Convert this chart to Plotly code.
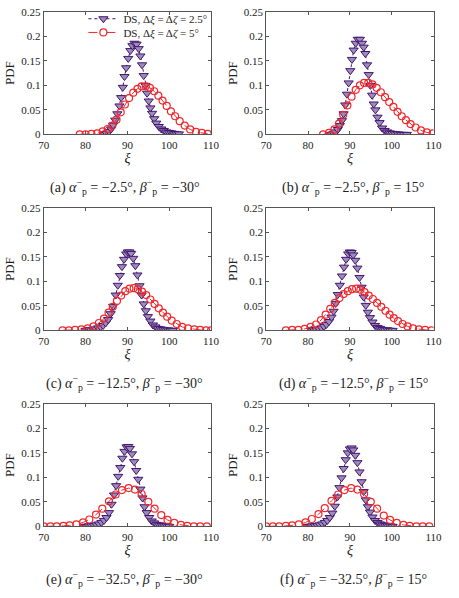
import plotly.graph_objects as go

# ---------------- data ----------------
# panel (a)
a_ds25_x = [84.5, 85.0, 85.6, 86.1, 86.6, 87.1, 87.6, 88.1, 88.5, 88.9, 89.3, 89.7, 90.2, 90.7, 91.2, 91.7,
            92.2, 92.7, 93.1, 93.5, 93.9, 94.3, 94.7, 95.1, 95.5, 95.9, 96.4, 96.9, 97.5, 98.1, 98.7, 99.3,
            99.9, 100.5, 101.1, 101.7, 102.3]
a_ds25_y = [0.000, 0.002, 0.006, 0.011, 0.019, 0.029, 0.042, 0.058, 0.075, 0.096, 0.118, 0.136, 0.155, 0.171,
            0.181, 0.186, 0.184, 0.175, 0.160, 0.142, 0.120, 0.100, 0.084, 0.068, 0.054, 0.043, 0.032, 0.023,
            0.016, 0.011, 0.008, 0.005, 0.004, 0.003, 0.002, 0.001, 0.001]
a_ds5_x = [78.6, 80.0, 81.4, 82.8, 84.1, 85.3, 86.4, 87.4, 88.4, 89.4, 90.4, 91.4, 92.4, 93.4, 94.4, 95.4,
           96.4, 97.4, 98.4, 99.4, 100.4, 101.4, 102.5, 103.7, 105.0, 106.4, 107.8, 109.2]
a_ds5_y = [0.000, 0.000, 0.001, 0.002, 0.006, 0.011, 0.018, 0.030, 0.045, 0.061, 0.074, 0.085, 0.093, 0.098,
           0.098, 0.095, 0.088, 0.079, 0.069, 0.058, 0.047, 0.037, 0.027, 0.018, 0.010, 0.005, 0.003, 0.001]

# panel (b)
b_ds25_x = [85.6, 86.1, 86.6, 87.1, 87.6, 88.1, 88.5, 88.9, 89.3, 89.7, 90.1, 90.5, 90.9, 91.4, 91.9, 92.4,
            92.9, 93.3, 93.7, 94.1, 94.5, 94.9, 95.3, 95.7, 96.1, 96.6, 97.1, 97.7, 98.3, 98.9, 99.5, 100.1,
            100.8, 101.5, 102.2, 102.9, 103.6]
b_ds25_y = [0.000, 0.002, 0.005, 0.010, 0.018, 0.028, 0.042, 0.060, 0.082, 0.105, 0.130, 0.153, 0.172, 0.186,
            0.194, 0.194, 0.186, 0.178, 0.165, 0.142, 0.122, 0.100, 0.080, 0.062, 0.050, 0.035, 0.024, 0.013,
            0.008, 0.005, 0.003, 0.002, 0.001, 0.001, 0.000, 0.000, 0.000]
b_ds5_x = [83.6, 85.0, 86.3, 87.4, 88.4, 89.4, 90.4, 91.4, 92.4, 93.4, 94.4, 95.4, 96.4, 97.4, 98.4, 99.4,
           100.4, 101.4, 102.4, 103.4, 104.5, 105.7, 107.0, 108.4, 109.8]
b_ds5_y = [0.000, 0.003, 0.010, 0.022, 0.040, 0.059, 0.077, 0.091, 0.100, 0.105, 0.105, 0.102, 0.095, 0.086,
           0.076, 0.066, 0.056, 0.046, 0.037, 0.029, 0.021, 0.014, 0.008, 0.004, 0.002]

# panel (c)
c_ds25_x = [80.0, 80.6, 81.2, 81.8, 82.4, 83.0, 83.6, 84.2, 84.8, 85.4, 86.0, 86.6, 87.2, 87.7, 88.2, 88.7,
            89.2, 89.7, 90.1, 90.5, 90.9, 91.4, 91.9, 92.4, 92.9, 93.4, 93.9, 94.4, 94.9, 95.5, 96.1, 96.7,
            97.3, 97.9, 98.5, 99.1, 99.7, 100.3, 100.9]
c_ds25_y = [0.000, 0.001, 0.001, 0.002, 0.003, 0.005, 0.007, 0.010, 0.015, 0.022, 0.034, 0.049, 0.072, 0.092,
            0.112, 0.130, 0.145, 0.156, 0.160, 0.160, 0.157, 0.147, 0.132, 0.113, 0.091, 0.072, 0.054, 0.040,
            0.028, 0.019, 0.011, 0.007, 0.004, 0.003, 0.002, 0.001, 0.001, 0.000, 0.000]
c_ds5_x = [74.5, 76.0, 77.5, 79.0, 80.5, 81.9, 83.2, 84.4, 85.5, 86.5, 87.5, 88.5, 89.5, 90.5, 91.5, 92.5,
           93.5, 94.5, 95.5, 96.5, 97.5, 98.5, 99.5, 100.6, 101.8, 103.1, 104.5, 106.0, 107.4, 108.8, 110.0]
c_ds5_y = [0.000, 0.000, 0.001, 0.002, 0.004, 0.008, 0.015, 0.024, 0.036, 0.048, 0.060, 0.071, 0.080, 0.085,
           0.086, 0.084, 0.079, 0.072, 0.063, 0.054, 0.045, 0.036, 0.028, 0.020, 0.013, 0.007, 0.004, 0.002,
           0.001, 0.000, 0.000]

# panel (d)
d_ds25_x = [80.8, 81.4, 82.0, 82.6, 83.2, 83.8, 84.4, 85.0, 85.6, 86.1, 86.6, 87.1, 87.6, 88.1, 88.6, 89.1,
            89.6, 90.0, 90.4, 90.8, 91.3, 91.8, 92.3, 92.8, 93.3, 93.8, 94.3, 94.8, 95.4, 96.0, 96.6, 97.2,
            97.8, 98.4, 99.0, 99.6, 100.2]
d_ds25_y = [0.000, 0.001, 0.002, 0.003, 0.005, 0.008, 0.012, 0.018, 0.027, 0.039, 0.055, 0.073, 0.092, 0.111,
            0.129, 0.145, 0.156, 0.160, 0.159, 0.154, 0.143, 0.127, 0.108, 0.088, 0.068, 0.051, 0.037, 0.026,
            0.017, 0.010, 0.006, 0.004, 0.002, 0.001, 0.001, 0.000, 0.000]
d_ds5_x = [74.7, 76.2, 77.7, 79.2, 80.6, 81.9, 83.1, 84.2, 85.3, 86.4, 87.5, 88.5, 89.5, 90.5, 91.5, 92.5,
           93.5, 94.5, 95.5, 96.5, 97.5, 98.5, 99.5, 100.5, 101.5, 102.6, 103.8, 105.1, 106.5, 108.0, 109.5]
d_ds5_y = [0.000, 0.001, 0.001, 0.003, 0.007, 0.012, 0.021, 0.032, 0.044, 0.056, 0.066, 0.074, 0.080, 0.084,
           0.085, 0.083, 0.078, 0.071, 0.064, 0.056, 0.048, 0.040, 0.032, 0.025, 0.019, 0.013, 0.008, 0.004,
           0.002, 0.001, 0.000]

# panel (e)
e_ds25_x = [79.6, 80.2, 80.8, 81.4, 82.0, 82.6, 83.2, 83.8, 84.4, 85.0, 85.6, 86.2, 86.8, 87.3, 87.8, 88.3,
            88.8, 89.3, 89.8, 90.2, 90.6, 91.1, 91.6, 92.1, 92.6, 93.1, 93.6, 94.1, 94.6, 95.2, 95.8, 96.4,
            97.0, 97.6, 98.2, 98.8, 99.4, 100.0]
e_ds25_y = [0.000, 0.000, 0.001, 0.001, 0.002, 0.003, 0.005, 0.008, 0.012, 0.018, 0.028, 0.045, 0.064, 0.083,
            0.102, 0.120, 0.139, 0.153, 0.162, 0.163, 0.159, 0.148, 0.132, 0.114, 0.096, 0.076, 0.058, 0.040,
            0.028, 0.018, 0.011, 0.007, 0.004, 0.003, 0.002, 0.001, 0.001, 0.000]
e_ds5_x = [70.0, 71.6, 73.1, 74.7, 76.2, 77.8, 79.4, 80.9, 82.5, 84.0, 85.6, 87.2, 88.7, 90.3, 91.8, 93.4,
           95.0, 96.5, 98.1, 99.6, 101.2, 102.8, 104.3, 105.9, 107.4, 109.0]
e_ds5_y = [0.000, 0.000, 0.000, 0.001, 0.002, 0.004, 0.008, 0.014, 0.024, 0.036, 0.051, 0.065, 0.074, 0.078,
           0.075, 0.066, 0.050, 0.036, 0.023, 0.013, 0.007, 0.003, 0.001, 0.000, 0.000, 0.000]

# panel (f)
f_ds25_x = [79.8, 80.4, 81.0, 81.6, 82.2, 82.8, 83.4, 84.0, 84.6, 85.2, 85.8, 86.4, 87.0, 87.5, 88.0, 88.5,
            89.0, 89.5, 90.0, 90.4, 90.8, 91.3, 91.8, 92.3, 92.8, 93.3, 93.8, 94.3, 94.8, 95.4, 96.0, 96.6,
            97.2, 97.8, 98.4, 99.0, 99.6, 100.2]
f_ds25_y = [0.000, 0.000, 0.001, 0.001, 0.002, 0.003, 0.005, 0.008, 0.012, 0.018, 0.027, 0.041, 0.060, 0.079,
            0.099, 0.118, 0.136, 0.150, 0.158, 0.160, 0.156, 0.145, 0.130, 0.111, 0.091, 0.071, 0.054, 0.040,
            0.029, 0.019, 0.012, 0.008, 0.005, 0.003, 0.002, 0.001, 0.001, 0.000]
f_ds5_x = [70.0, 71.6, 73.1, 74.7, 76.2, 77.8, 79.4, 80.9, 82.5, 84.0, 85.6, 87.2, 88.7, 90.3, 91.8, 93.4,
           95.0, 96.5, 98.1, 99.6, 101.2, 102.8, 104.3, 105.9, 107.4, 109.0]
f_ds5_y = [0.000, 0.000, 0.000, 0.001, 0.002, 0.004, 0.008, 0.015, 0.025, 0.037, 0.052, 0.065, 0.074, 0.078,
           0.075, 0.066, 0.050, 0.036, 0.022, 0.013, 0.007, 0.003, 0.001, 0.000, 0.000, 0.000]

captions = [
    "(a) <i>α</i><sup>−</sup><sub>p</sub> = −2.5°, <i>β</i><sup>−</sup><sub>p</sub> = −30°",
    "(b) <i>α</i><sup>−</sup><sub>p</sub> = −2.5°, <i>β</i><sup>−</sup><sub>p</sub> = 15°",
    "(c) <i>α</i><sup>−</sup><sub>p</sub> = −12.5°, <i>β</i><sup>−</sup><sub>p</sub> = −30°",
    "(d) <i>α</i><sup>−</sup><sub>p</sub> = −12.5°, <i>β</i><sup>−</sup><sub>p</sub> = 15°",
    "(e) <i>α</i><sup>−</sup><sub>p</sub> = −32.5°, <i>β</i><sup>−</sup><sub>p</sub> = −30°",
    "(f) <i>α</i><sup>−</sup><sub>p</sub> = −32.5°, <i>β</i><sup>−</sup><sub>p</sub> = 15°",
]
legend_names = ["DS, Δ<i>ξ</i> = Δ<i>ζ</i> = 2.5°", "DS, Δ<i>ξ</i> = Δ<i>ζ</i> = 5°"]
x_ticks = [70, 80, 90, 100, 110]
y_ticks = [0, 0.05, 0.1, 0.15, 0.2, 0.25]
y_ticktext = ["0", "0.05", "0.1", "0.15", "0.2", "0.25"]

panels = [
    (a_ds25_x, a_ds25_y, a_ds5_x, a_ds5_y),
    (b_ds25_x, b_ds25_y, b_ds5_x, b_ds5_y),
    (c_ds25_x, c_ds25_y, c_ds5_x, c_ds5_y),
    (d_ds25_x, d_ds25_y, d_ds5_x, d_ds5_y),
    (e_ds25_x, e_ds25_y, e_ds5_x, e_ds5_y),
    (f_ds25_x, f_ds25_y, f_ds5_x, f_ds5_y),
]

# ---------------- layout geometry ----------------
W, H = 459, 598
col_px = [(39, 212), (269, 442)]
row_px = [(6, 131), (206, 331), (406, 531)]
caption_y_px = [185, 385, 585]
caption_x_px = [123, 359]

PURPLE = "#42146f"
PURPLE_FILL = "#9c8cba"
RED = "#f0282c"
AXC = "#555555"
SERIF = "Liberation Serif, Times New Roman, serif"

leg_common = dict(xanchor="left", yanchor="middle", bgcolor="rgba(255,255,255,0)", borderwidth=0,
                  font=dict(family=SERIF, size=11, color="#222"), itemwidth=30)

fig = go.Figure()
layout = dict(
    width=W, height=H, margin=dict(l=0, r=0, t=0, b=0),
    paper_bgcolor="white", plot_bgcolor="white",
    font=dict(family=SERIF, size=11, color="#222"),
    showlegend=True,
    legend=dict(x=80 / W, y=1 - 13 / H, **leg_common),
    legend2=dict(x=80 / W, y=1 - 27 / H, **leg_common),
)
annotations = []

for i, (px, py, rx, ry) in enumerate(panels):
    r, c = divmod(i, 2)
    k = "" if i == 0 else str(i + 1)
    fig.add_trace(go.Scatter(
        x=px, y=py, mode="lines+markers", name=legend_names[0], showlegend=(i == 0),
        legend="legend",
        line=dict(color=PURPLE, width=1, dash="dot"),
        marker=dict(symbol="triangle-down", size=8, color=PURPLE_FILL,
                    line=dict(color=PURPLE, width=1)),
        xaxis="x" + k, yaxis="y" + k))
    fig.add_trace(go.Scatter(
        x=rx, y=ry, mode="lines+markers", name=legend_names[1], showlegend=(i == 0),
        legend="legend2",
        line=dict(color=RED, width=1, dash="dash"),
        marker=dict(symbol="circle-open", size=7, color=RED, line=dict(color=RED, width=1.2)),
        xaxis="x" + k, yaxis="y" + k))
    x0, x1 = col_px[c]
    t0, t1 = row_px[r]
    layout["xaxis" + k] = dict(
        domain=[x0 / W, x1 / W], anchor="y" + k, range=[70, 110],
        tickvals=x_ticks, ticks="inside", ticklen=3, tickcolor=AXC,
        showline=True, linecolor=AXC, linewidth=1, mirror="ticks",
        showgrid=False, zeroline=False,
        tickfont=dict(family=SERIF, size=11, color="#222"),
        title=dict(text="<i>ξ</i>", standoff=0, font=dict(family=SERIF, size=14, color="#222")),
    )
    layout["yaxis" + k] = dict(
        domain=[1 - t1 / H, 1 - t0 / H], anchor="x" + k, range=[0, 0.25],
        tickvals=y_ticks, ticktext=y_ticktext, ticks="inside", ticklen=3, tickcolor=AXC,
        showline=True, linecolor=AXC, linewidth=1, mirror="ticks",
        showgrid=False, zeroline=False,
        tickfont=dict(family=SERIF, size=11, color="#222"),
        title=dict(text="PDF", standoff=3, font=dict(family=SERIF, size=13, color="#222")),
    )
    annotations.append(dict(
        text=captions[i], xref="paper", yref="paper",
        x=caption_x_px[c] / W, y=1 - caption_y_px[r] / H,
        xanchor="center", yanchor="middle", showarrow=False,
        font=dict(family=SERIF, size=14, color="#222")))

layout["annotations"] = annotations
fig.update_layout(**layout)
fig.write_html("out.html")
